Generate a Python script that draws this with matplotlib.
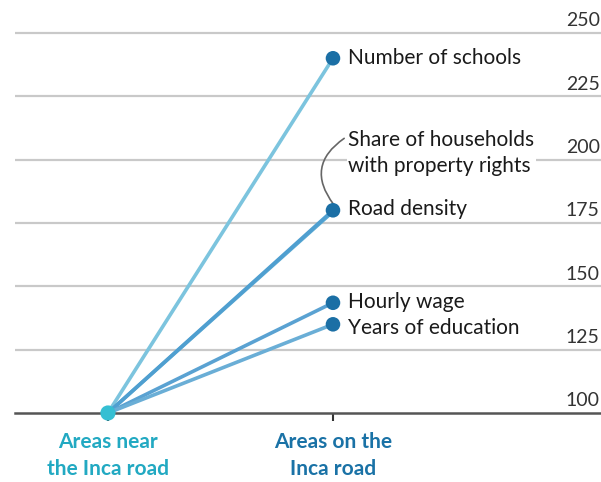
import matplotlib.pyplot as plt
from matplotlib.transforms import blended_transform_factory

plt.rcParams['font.family'] = ['Lato', 'DejaVu Sans']

# index, areas near the Inca road = 100
series = ['Number of schools', 'Share of households\nwith property rights',
          'Road density', 'Hourly wage', 'Years of education']
near_vals = [100, 100, 100, 100, 100]
on_vals = [240, 179.5, 180, 143.5, 135]
label_y = [240, 202.5, 180.5, 143.8, 133.6]
line_colors = ['#7cc4de', '#5aa9d3', '#4f9fd0', '#5aa2d2', '#6aaed6']

yticks = [100, 125, 150, 175, 200, 225, 250]
xlabels = ['Areas near\nthe Inca road', 'Areas on the\nInca road']
xlabel_colors = ['#22a9c2', '#1a72a6']

fig = plt.figure(figsize=(6.01, 4.82), dpi=100)
ax = fig.add_axes([15 / 601, 1 - 413 / 482, 586 / 601, (413 - 20) / 482])
ax.set_xlim(-0.413, 2.191)
ax.set_ylim(100, 255.1)

for t in yticks[1:]:
    ax.axhline(t, color='#c9c9c9', lw=1.6, zorder=1)

# y labels sit above the gridlines on the right
tr = blended_transform_factory(ax.transAxes, ax.transData)
for t in yticks:
    ax.text(0.998, t + 1.4, str(t), transform=tr, ha='right', va='bottom',
            fontsize=14, color='#333333')

for i in range(len(series)):
    ax.plot([0, 1], [near_vals[i], on_vals[i]], color=line_colors[i], lw=2.6,
            solid_capstyle='round', zorder=2)
    if i != 1:
        ax.scatter([1], [on_vals[i]], s=110, color='#1b6fa5', zorder=4,
                   edgecolor='none')

ax.scatter([0], [100], s=120, color='#35bfd3', zorder=5, edgecolor='none',
           clip_on=False)

for i in range(len(series)):
    bbox = None
    if i == 1:
        bbox = dict(facecolor='white', edgecolor='none', pad=1)
    ax.text(1.067, label_y[i], series[i], ha='left', va='center',
            fontsize=15, color='#1a1a1a', linespacing=1.4, bbox=bbox, zorder=3)

# bracket from the property-rights label to its point
ax.annotate('', xy=(1.01, 181.5), xytext=(1.06, 209),
            arrowprops=dict(arrowstyle='-', color='#666666', lw=1.2,
                            connectionstyle='arc3,rad=0.55'), zorder=3)

for s in ['top', 'right', 'left']:
    ax.spines[s].set_visible(False)
ax.spines['bottom'].set_color('#555555')
ax.spines['bottom'].set_linewidth(1.8)
ax.set_yticks([])
ax.set_xticks([0, 1])
ax.set_xticklabels(xlabels, fontsize=15, fontweight='bold', linespacing=1.4)
for lbl, c in zip(ax.get_xticklabels(), xlabel_colors):
    lbl.set_color(c)
ax.tick_params(axis='x', length=6, width=1.5, color='#333333', pad=8)

fig.savefig('out.png', dpi=100)
